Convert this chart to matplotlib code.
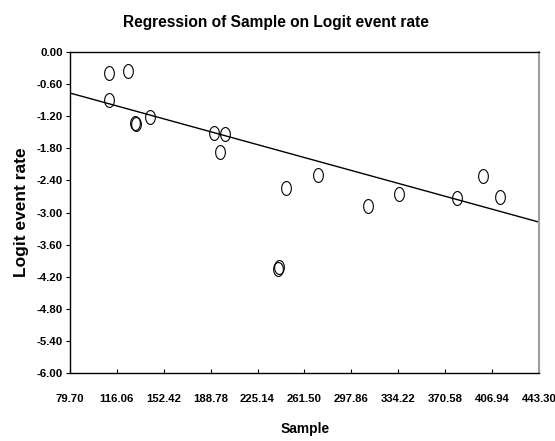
import numpy as np
import matplotlib
matplotlib.use("Agg")
import matplotlib.pyplot as plt
from matplotlib import font_manager
from matplotlib.path import Path

# data
sample = [110.2, 124.9, 110.2, 130.3, 130.6, 142.0, 191.1, 200.1, 196.2,
          247.2, 272.2, 311.0, 335.0, 380.0, 400.1, 412.8, 241.7, 241.2]
logit_rate = [-0.40, -0.36, -0.89, -1.32, -1.34, -1.22, -1.51, -1.54, -1.87,
              -2.55, -2.29, -2.88, -2.66, -2.72, -2.31, -2.70, -4.01, -4.05]
intercept = -0.237
slope = -0.006634

x_ticks = [79.70, 116.06, 152.42, 188.78, 225.14, 261.50, 297.86, 334.22,
           370.58, 406.94, 443.30]
y_ticks = [0.00, -0.60, -1.20, -1.80, -2.40, -3.00, -3.60, -4.20, -4.80,
           -5.40, -6.00]

installed = {f.name for f in font_manager.fontManager.ttflist}
has_narrow = 'Liberation Sans Narrow' in installed
narrow = ['Liberation Sans Narrow', 'Liberation Sans', 'DejaVu Sans']
wide = ['Liberation Sans', 'DejaVu Sans']
# condensed font missing -> shrink a bit so widths stay close
k = 1.0 if has_narrow else 0.86

# tall open ellipse marker
t = np.linspace(0, 2 * np.pi, 60)
ellipse = Path(np.column_stack([0.7 * np.cos(t), np.sin(t)]))

fig = plt.figure(figsize=(5.55, 4.41), dpi=100)
ax = fig.add_axes([0.126, 0.154, 0.845, 0.728])

xx = np.array([x_ticks[0], x_ticks[-1]])
ax.plot(xx, intercept + slope * xx, color='black', linewidth=1.0)
ax.plot(sample, logit_rate, linestyle='none', marker=ellipse, markersize=10,
        markerfacecolor='none', markeredgecolor='black', markeredgewidth=0.8)

ax.set_xlim(x_ticks[0], x_ticks[-1])
ax.set_ylim(y_ticks[-1], y_ticks[0])
ax.set_xticks(x_ticks)
ax.set_yticks(y_ticks)
ax.set_xticklabels([f'{v:.2f}' for v in x_ticks], family=narrow,
                   fontweight='bold', fontsize=9.5 * k)
ax.set_yticklabels([f'{v:.2f}' for v in y_ticks], family=narrow,
                   fontweight='bold', fontsize=9.5 * k)
ax.tick_params(axis='x', direction='in', length=3, width=0.8, pad=15)
ax.tick_params(axis='y', direction='out', length=3, width=0.8, pad=2)

for side in ['left', 'bottom', 'top']:
    ax.spines[side].set_color('black')
    ax.spines[side].set_linewidth(1.0)
ax.spines['right'].set_color('#a0a0a0')
ax.spines['right'].set_linewidth(1.5)

fig.text(0.498, 0.948, 'Regression of Sample on Logit event rate',
         ha='center', va='center', family=narrow, fontweight='bold',
         fontsize=13 * k)
fig.text(0.549, 0.027, 'Sample', ha='center', va='center', family=narrow,
         fontweight='bold', fontsize=11.5 * k)
fig.text(0.038, 0.518, 'Logit event rate', ha='center', va='center',
         rotation=90, family=wide, fontweight='bold', fontsize=12.5)

fig.savefig('out.png', dpi=100)
